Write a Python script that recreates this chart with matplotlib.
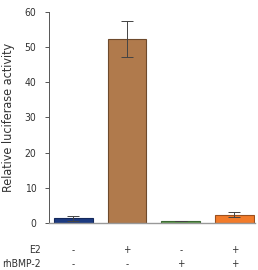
import matplotlib
matplotlib.use("Agg")
import matplotlib.pyplot as plt

# values
groups = ["1", "2", "3", "4"]
values = [1.3, 52.3, 0.7, 2.4]
errors = [0.7, 5.0, 0.0, 0.8]
colors = ["#1c3a80", "#b07a4c", "#5e9a4e", "#f27b2a"]
edges = ["#14295c", "#6e4a2c", "#3d6a34", "#9a5020"]
e2_signs = ["-", "+", "-", "+"]
bmp_signs = ["-", "-", "+", "+"]
yticks = [0, 10, 20, 30, 40, 50, 60]

plt.rcParams["font.family"] = ["DejaVu Sans"]
plt.rcParams["font.stretch"] = "condensed"

fig = plt.figure(figsize=(2.58, 2.70), dpi=100)
ax = fig.add_axes([0.19, 0.174, 0.798, 0.782])

x = list(range(len(groups)))
ax.bar(x, values, width=0.72, color=colors, edgecolor=edges, linewidth=0.8, zorder=2)
ax.errorbar(x, values, yerr=errors, fmt="none", ecolor="#444444",
            elinewidth=0.7, capsize=4, capthick=0.7, zorder=3)

ax.set_xlim(-0.45, 3.38)
ax.set_ylim(0, 60)
ax.set_yticks(yticks)
ax.tick_params(axis="y", direction="out", length=3, width=0.7, pad=6, colors="#555555",
               labelcolor="#333333", labelsize=7.5)
ax.set_xticks([])
for side in ("top", "right"):
    ax.spines[side].set_visible(False)
ax.spines["left"].set_color("#555555")
ax.spines["left"].set_linewidth(0.7)
ax.spines["bottom"].set_color("#999999")
ax.spines["bottom"].set_linewidth(1.0)

ax.set_ylabel("Relative luciferase activity", fontsize=9, color="#333333", labelpad=7)

# treatment rows under the bars
trans = ax.get_xaxis_transform()
for xi, a, b in zip(x, e2_signs, bmp_signs):
    ax.text(xi, -0.13, a, transform=trans, ha="center", va="center", fontsize=7, color="#333333")
    ax.text(xi, -0.196, b, transform=trans, ha="center", va="center", fontsize=7, color="#333333")
ax.text(-0.04, -0.13, "E2", transform=ax.transAxes, ha="right", va="center", fontsize=7.5, color="#333333")
ax.text(-0.04, -0.196, "rhBMP-2", transform=ax.transAxes, ha="right", va="center", fontsize=7.5, color="#333333")

fig.savefig("out.png", dpi=100)
